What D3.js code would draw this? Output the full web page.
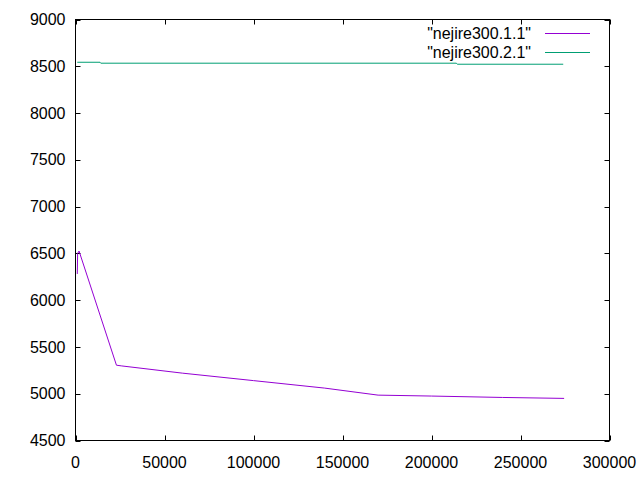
<!DOCTYPE html>
<html>
<head>
<meta charset="UTF-8">
<script src="https://d3js.org/d3.v7.min.js"></script>
<style>
  body { margin: 0; background: #fff; }
  svg text { font-family: "Liberation Sans", Arial, sans-serif; font-size: 16px; fill: #000; }
</style>
</head>
<body>
<svg id="chart" width="640" height="480"></svg>
<script>
  // series 1: "nejire300.1.1"
  const x1 = [1000, 1200, 2000, 23000, 26000, 60000, 100000, 140000, 170000, 200000, 240000, 274500];
  const y1 = [6280, 6500, 6525, 5305, 5297, 5220, 5140, 5060, 4985, 4975, 4960, 4950];
  // series 2: "nejire300.2.1"
  const x2 = [1000, 13800, 14200, 214000, 214500, 274000];
  const y2 = [8543, 8543, 8533, 8533, 8522, 8522];

  const seriesNames = ['"nejire300.1.1"', '"nejire300.2.1"'];
  const seriesColors = ["#9400d3", "#009e73"];
  const xTicks = [0, 50000, 100000, 150000, 200000, 250000, 300000];
  const yTicks = [4500, 5000, 5500, 6000, 6500, 7000, 7500, 8000, 8500, 9000];

  const pL = 75.5, pR = 609.5, pT = 19.5, pB = 440.5;

  const svg = d3.select("#chart");
  const x = d3.scaleLinear().domain([0, 300000]).range([pL, pR]);
  const y = d3.scaleLinear().domain([4500, 9000]).range([pB, pT]);

  // ticks (inward, mirrored)
  const tk = svg.append("g").attr("stroke", "#000").attr("stroke-width", 1);
  yTicks.forEach(v => {
    const yy = Math.round(y(v)) + 0.5;
    tk.append("line").attr("x1", pL).attr("x2", pL + 5).attr("y1", yy).attr("y2", yy);
    tk.append("line").attr("x1", pR).attr("x2", pR - 5).attr("y1", yy).attr("y2", yy);
  });
  xTicks.forEach(v => {
    const xx = Math.round(x(v)) + 0.5;
    tk.append("line").attr("x1", xx).attr("x2", xx).attr("y1", pB).attr("y2", pB - 5);
    tk.append("line").attr("x1", xx).attr("x2", xx).attr("y1", pT).attr("y2", pT + 5);
  });

  svg.append("g").selectAll("text").data(yTicks).enter().append("text")
    .attr("x", pL - 10).attr("y", d => y(d)).attr("dy", "0.35em")
    .attr("text-anchor", "end").text(d => d);

  svg.append("g").selectAll("text").data(xTicks).enter().append("text")
    .attr("x", d => x(d)).attr("y", pB + 22).attr("dy", "0.35em")
    .attr("text-anchor", "middle").text(d => d);

  // lines
  const line = d3.line().x(d => x(d[0])).y(d => y(d[1]));
  const data = [d3.zip(x1, y1), d3.zip(x2, y2)];
  data.forEach((pts, i) => {
    svg.append("path").datum(pts).attr("d", line)
      .attr("fill", "none").attr("stroke", seriesColors[i]).attr("stroke-width", 1);
  });

  // legend
  seriesNames.forEach((name, i) => {
    const ly = 33 + i * 19;
    svg.append("text").attr("x", 531).attr("y", ly).attr("dy", "0.35em")
      .attr("text-anchor", "end").text(name);
    svg.append("line").attr("x1", 545).attr("x2", 590).attr("y1", ly + 0.5).attr("y2", ly + 0.5)
      .attr("stroke", seriesColors[i]).attr("stroke-width", 1);
  });

  // frame
  svg.append("rect").attr("x", pL).attr("y", pT)
    .attr("width", pR - pL).attr("height", pB - pT)
    .attr("fill", "none").attr("stroke", "#000").attr("stroke-width", 1);
</script>
</body>
</html>
